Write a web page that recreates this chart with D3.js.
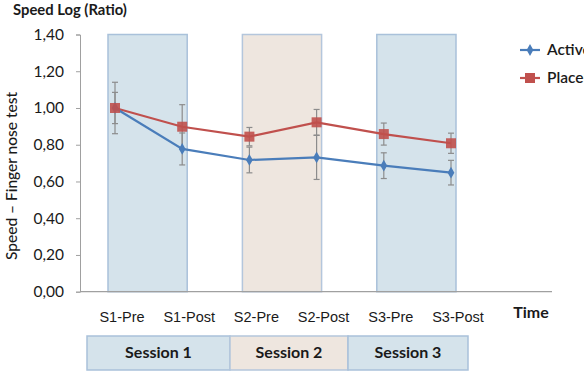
<!DOCTYPE html>
<html><head><meta charset="utf-8">
<script src="https://cdn.jsdelivr.net/npm/d3@7"></script>
<style>body{margin:0;background:#fff}svg{display:block}</style>
</head><body>
<script>
const categories = ["S1-Pre","S1-Post","S2-Pre","S2-Post","S3-Pre","S3-Post"];
const activeValues = [1.00,0.777,0.717,0.731,0.686,0.648];
const activeErrors = [0.14,0.087,0.07,0.12,0.07,0.067];
const placeboValues = [1.00,0.898,0.844,0.922,0.858,0.808];
const placeboErrors = [0.085,0.12,0.05,0.07,0.06,0.055];
const yTicks = [0,0.2,0.4,0.6,0.8,1.0,1.2,1.4];
const sessions = ["Session 1","Session 2","Session 3"];
const sessionCats = [["S1-Pre","S1-Post"],["S2-Pre","S2-Post"],["S3-Pre","S3-Post"]];
const seriesNames = ["Active","Placebo"];

const W=584,H=376;
const svg=d3.select("body").append("svg").attr("width",W).attr("height",H);
const x=d3.scalePoint().domain(categories).range([115,451]);
const y=d3.scaleLinear().domain([0,1.4]).range([291.7,34.5]);
const blue="#4a7dba", red="#c0504d";
const bandFill=["#d5e3eb","#eee6df","#d5e3eb"];
const bandStroke=["#a9c1da","#b4c6dc","#a9c1da"];
const calib="Lato, 'Open Sans', sans-serif";

// session background bands
sessionCats.forEach((c,i)=>{
  svg.append("rect").attr("x",x(c[0])-7).attr("y",y(1.4))
    .attr("width",x(c[1])-x(c[0])+12).attr("height",y(0)-y(1.4))
    .attr("fill",bandFill[i]).attr("stroke",bandStroke[i]).attr("stroke-width",1.5);
});

// y axis
const yAxis=d3.axisLeft(y).tickValues(yTicks).tickSize(4).tickPadding(12)
  .tickFormat(d=>d3.format(".2f")(d).replace(".",","));
const ga=svg.append("g").attr("transform","translate(80,0)").call(yAxis);
ga.select(".domain").attr("stroke","#a0a0a0");
ga.selectAll(".tick line").attr("stroke","#a0a0a0");
ga.selectAll(".tick text").attr("font-family",calib).attr("font-size",15.5).attr("fill","#1a1a1a");

// x axis line
svg.append("line").attr("x1",80).attr("x2",552).attr("y1",y(0)).attr("y2",y(0))
  .attr("stroke","#a0a0a0").attr("stroke-width",1.2);

// x tick labels
svg.append("g").selectAll("text").data(categories).join("text")
  .attr("x",d=>x(d)+7).attr("y",322).attr("text-anchor","middle")
  .attr("font-family","'Liberation Sans', Arial, sans-serif").attr("font-size",14.5).attr("fill","#1a1a1a")
  .text(d=>d);

svg.append("text").attr("x",531).attr("y",318).attr("text-anchor","middle")
  .attr("font-family",calib).attr("font-weight","bold").attr("font-size",16).attr("fill","#1a1a1a").text("Time");

// title
svg.append("text").attr("x",13).attr("y",15).attr("font-family",calib).attr("font-weight","bold")
  .attr("font-size",14.8).attr("fill","#1a1a1a").text("Speed Log (Ratio)");

// y title
svg.append("text").attr("transform","translate(17,176) rotate(-90)").attr("text-anchor","middle")
  .attr("font-family",calib).attr("font-size",15.5).attr("font-weight",500).attr("fill","#1a1a1a").text("Speed – Finger nose test");

// error bars
function errBars(vals,errs){
  const g=svg.append("g").attr("stroke","#8c8c8c").attr("stroke-width",1.2);
  categories.forEach((c,i)=>{
    const cx=x(c), t=y(vals[i]+errs[i]), b=y(vals[i]-errs[i]);
    g.append("line").attr("x1",cx).attr("x2",cx).attr("y1",t).attr("y2",b);
    g.append("line").attr("x1",cx-3).attr("x2",cx+3).attr("y1",t).attr("y2",t);
    g.append("line").attr("x1",cx-3).attr("x2",cx+3).attr("y1",b).attr("y2",b);
  });
}
errBars(activeValues,activeErrors);
errBars(placeboValues,placeboErrors);

const line=d3.line().x((d,i)=>x(categories[i])).y(d=>y(d));
svg.append("path").datum(placeboValues).attr("d",line).attr("fill","none").attr("stroke",red).attr("stroke-width",2.2);
svg.append("path").datum(activeValues).attr("d",line).attr("fill","none").attr("stroke",blue).attr("stroke-width",2.2);

const diamond=d3.symbol().type(d3.symbolDiamond).size(40);
svg.append("g").selectAll("path").data(activeValues).join("path")
  .attr("d",diamond).attr("transform",(d,i)=>`translate(${x(categories[i])},${y(d)})`).attr("fill",blue);
svg.append("g").selectAll("rect").data(placeboValues).join("rect")
  .attr("x",(d,i)=>x(categories[i])-5).attr("y",d=>y(d)-5).attr("width",10).attr("height",10).attr("fill",red).attr("opacity",0.9);

// legend
const leg=[{n:seriesNames[0],c:blue,yy:50},{n:seriesNames[1],c:red,yy:78}];
leg.forEach((l,i)=>{
  svg.append("line").attr("x1",520).attr("x2",540).attr("y1",l.yy).attr("y2",l.yy).attr("stroke",l.c).attr("stroke-width",2.2);
  if(i===0) svg.append("path").attr("d",diamond).attr("transform",`translate(530,${l.yy})`).attr("fill",l.c);
  else svg.append("rect").attr("x",525).attr("y",l.yy-5).attr("width",10).attr("height",10).attr("fill",l.c);
  svg.append("text").attr("x",547).attr("y",l.yy+5).attr("font-family",calib).attr("font-size",15.5)
    .attr("font-weight",600).attr("fill","#1a1a1a").text(l.n);
});

// session boxes
const bx=[87,230,348,468];
sessions.forEach((s,i)=>{
  svg.append("rect").attr("x",bx[i]).attr("y",336).attr("width",bx[i+1]-bx[i]).attr("height",34)
    .attr("fill",bandFill[i]).attr("stroke",bandStroke[i]).attr("stroke-width",1.5);
  svg.append("text").attr("x",(bx[i]+bx[i+1])/2).attr("y",358).attr("text-anchor","middle")
    .attr("font-family",calib).attr("font-weight","bold").attr("font-size",16).attr("fill","#1a1a1a").text(s);
});
</script>
</body></html>
